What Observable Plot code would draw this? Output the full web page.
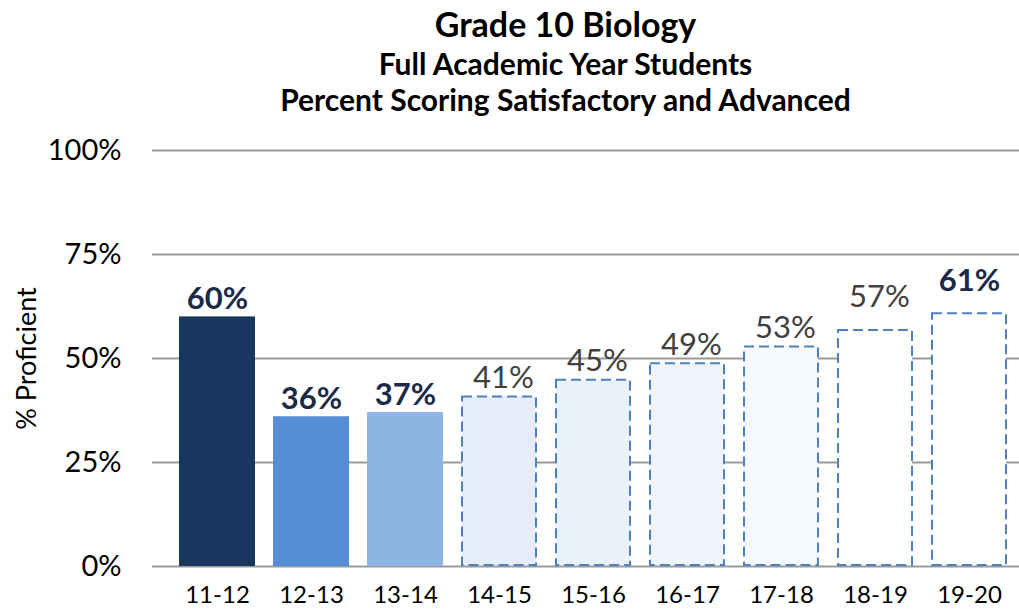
<!DOCTYPE html>
<html>
<head>
<meta charset="utf-8">
<script src="https://cdn.jsdelivr.net/npm/d3@7"></script>
<script src="https://cdn.jsdelivr.net/npm/@observablehq/plot@0.6"></script>
<style>
  html, body { margin: 0; padding: 0; background: #fff; }
  body { width: 1019px; height: 612px; overflow: hidden; font-family: Lato, "Open Sans", sans-serif; }
  #head { position: relative; height: 125px; width: 1019px; }
  #head div { position: absolute; left: 112px; right: 0; text-align: center; font-weight: bold; color: #000; white-space: nowrap; }
  #t1 { top: 7px; font-size: 34px; line-height: 34px; }
  #t2 { top: 48px; font-size: 30px; line-height: 30px; }
  #t3 { top: 84px; font-size: 30px; line-height: 30px; }
  svg { display: block; }
</style>
</head>
<body>
<div id="head">
  <div id="t1">Grade 10 Biology</div>
  <div id="t2">Full Academic Year Students</div>
  <div id="t3">Percent Scoring Satisfactory and Advanced</div>
</div>
<div id="chart"></div>
<script>
const years = ["11-12", "12-13", "13-14", "14-15", "15-16", "16-17", "17-18", "18-19", "19-20"];
const values = [0.60, 0.36, 0.37, 0.41, 0.45, 0.49, 0.53, 0.57, 0.61];
const status = ["actual", "actual", "actual", "projected", "projected", "projected", "projected", "projected", "target"];
const yTicks = [0, 0.25, 0.5, 0.75, 1];
const yLabel = "% Proficient";

// style constants
const barFills = ["#17375e", "#558ed5", "#8eb4e3", "#e6edf8", "#ebf1f9", "#eff4fa", "#f5f8fc", "#ffffff", "#ffffff"];

const pct = d3.format(".0%");
const data = years.map((y, i) => ({year: y, value: values[i], status: status[i], fill: barFills[i]}));
const actual = data.filter(d => d.status === "actual");
const future = data.filter(d => d.status !== "actual");
const boldLabels = data.filter(d => d.status !== "projected");
const plainLabels = data.filter(d => d.status === "projected");
// labels over unfilled (white) bars sit higher, as in the original
const lift = d => d.fill === "#ffffff" ? 22 : 8;

const chart = Plot.plot({
  width: 1019,
  height: 487,
  marginLeft: 152,
  marginRight: 0,
  marginTop: 25,
  marginBottom: 46,
  style: {fontFamily: "Lato, 'Open Sans', sans-serif", background: "#fff"},
  x: {domain: years, range: [170, 1017], paddingInner: 0.19, paddingOuter: 0.095, label: null},
  y: {domain: [0, 1], label: null},
  marks: [
    Plot.ruleY(yTicks, {stroke: "#999", strokeWidth: 2}),
    Plot.barY(actual, {x: "year", y: "value", fill: "fill"}),
    Plot.barY(future, {x: "year", y: "value", fill: "fill", stroke: "#4f81bd", strokeWidth: 2, strokeDasharray: "10,5", inset: 1}),
    ...boldLabels.map(d => Plot.text([d], {x: "year", y: "value", text: d => pct(d.value), lineAnchor: "bottom", dy: -lift(d), fontSize: 31, fontWeight: "bold", fill: "#1b2a47"})),
    ...plainLabels.map(d => Plot.text([d], {x: "year", y: "value", text: d => pct(d.value), lineAnchor: "bottom", dy: -lift(d), dx: 4, fontSize: 31, fill: "#404040"})),
    Plot.axisY(yTicks, {tickSize: 0, tickPadding: 31, tickFormat: pct, fontSize: 29, fill: "#000", label: null}),
    Plot.axisX({tickSize: 0, tickPadding: 19, fontSize: 24, fill: "#000", label: null}),
    Plot.text([yLabel], {frameAnchor: "left", textAnchor: "middle", rotate: -90, dx: -125, fontSize: 27, fill: "#000"})
  ]
});
document.getElementById("chart").appendChild(chart);
</script>
</body>
</html>
